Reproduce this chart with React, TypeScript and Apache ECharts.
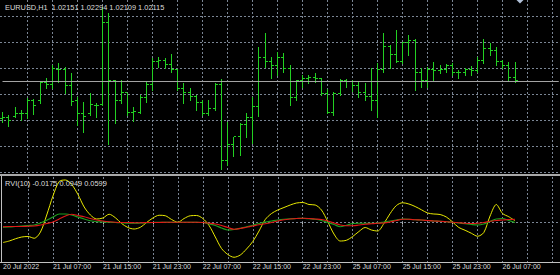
import React, { useEffect, useRef } from "react";
import * as echarts from "echarts";

const TITLE = "EURUSD,H1  1.02151 1.02294 1.02109 1.02115";
const RVI_LABEL = "RVI(10) -0.0175 0.0949 0.0599";
const TICK_LABELS = [
  "20 Jul 2022", "21 Jul 07:00", "21 Jul 15:00", "21 Jul 23:00", "22 Jul 07:00",
  "22 Jul 15:00", "22 Jul 23:00", "25 Jul 07:00", "25 Jul 15:00", "25 Jul 23:00", "26 Jul 07:00",
];
const SLOT_COUNT = 90;
const CATEGORIES = Array.from({ length: SLOT_COUNT }, (_, i) => String(i));
const BID = 1.02115;

const OPEN = [
  1.01764, 1.01782, 1.01791, 1.0181, 1.01819, 1.0193, 1.0193, 1.02097, 1.02087, 1.02226,
  1.02217, 1.02069, 1.01939, 1.01819, 1.0181, 1.01893, 1.019, 1.02652, 1.02115, 1.0193,
  1.02004, 1.01828, 1.01828, 1.01958, 1.02087, 1.02291, 1.02309, 1.02272, 1.02217, 1.0205,
  1.02004, 1.01976, 1.01912, 1.0181, 1.01865, 1.02087, 1.01384, 1.01523, 1.01597, 1.01717,
  1.01773, 1.01875, 1.02337, 1.023, 1.02263, 1.02328, 1.02235, 1.01958, 1.02115, 1.02134,
  1.02143, 1.02134, 1.01995, 1.01828, 1.01995, 1.02115, 1.02106, 1.02069, 1.02004, 1.01967,
  1.01939, 1.02226, 1.0243, 1.02356, 1.023, 1.02467, 1.02494, 1.02198, 1.02115, 1.02217,
  1.02208, 1.02226, 1.02254, 1.02198, 1.02189, 1.02217, 1.02212, 1.02309, 1.02411, 1.02393,
  1.02291, 1.02263, 1.02151,
];
const HIGH = [
  1.01831, 1.01801, 1.01877, 1.01847, 1.01955, 1.01946, 1.02109, 1.0214, 1.02263, 1.02279,
  1.02247, 1.02186, 1.01964, 1.01924, 1.02001, 1.01909, 1.02802, 1.02741, 1.02124, 1.02124,
  1.02007, 1.01877, 1.01986, 1.02109, 1.02328, 1.02337, 1.02328, 1.02365, 1.02226, 1.02094,
  1.02047, 1.01986, 1.01939, 1.01939, 1.02094, 1.02131, 1.01739, 1.016, 1.01724, 1.01816,
  1.0197, 1.02432, 1.02556, 1.0234, 1.02386, 1.02371, 1.02263, 1.02124, 1.02171, 1.02171,
  1.02186, 1.0214, 1.02038, 1.02016, 1.02131, 1.02129, 1.02124, 1.02109, 1.02094, 1.02233,
  1.02279, 1.02556, 1.02448, 1.02587, 1.02479, 1.02541, 1.02501, 1.02233, 1.02247, 1.02294,
  1.02263, 1.0227, 1.02279, 1.02217, 1.02238, 1.02254, 1.0234, 1.02501, 1.02464, 1.02432,
  1.02309, 1.02294, 1.02294,
];
const LOW = [
  1.01739, 1.01699, 1.01779, 1.01754, 1.0177, 1.0181, 1.01914, 1.02047, 1.02047, 1.02109,
  1.02001, 1.01893, 1.01708, 1.01646, 1.01801, 1.01785, 1.01895, 1.01532, 1.01724, 1.01909,
  1.01801, 1.01745, 1.01816, 1.01924, 1.02032, 1.02245, 1.02233, 1.02201, 1.02032, 1.01909,
  1.01939, 1.01847, 1.01801, 1.01801, 1.01847, 1.01298, 1.01338, 1.01421, 1.01431, 1.016,
  1.01539, 1.01791, 1.02247, 1.0214, 1.02171, 1.02201, 1.01893, 1.01939, 1.02057, 1.02094,
  1.02109, 1.01986, 1.01816, 1.01801, 1.01986, 1.02062, 1.02025, 1.0197, 1.01939, 1.01847,
  1.01785, 1.02201, 1.02233, 1.02294, 1.02279, 1.02356, 1.02032, 1.02057, 1.02057, 1.02124,
  1.02186, 1.02201, 1.02171, 1.0214, 1.02171, 1.02171, 1.02201, 1.02279, 1.02356, 1.02263,
  1.02233, 1.02124, 1.02109,
];
const CLOSE = [
  1.01782, 1.01754, 1.0181, 1.01819, 1.0193, 1.01884, 1.02097, 1.02087, 1.02235, 1.02217,
  1.02069, 1.01921, 1.01819, 1.01791, 1.01902, 1.01884, 1.02652, 1.02115, 1.0193, 1.02013,
  1.01828, 1.01834, 1.01958, 1.02087, 1.02291, 1.02309, 1.02272, 1.02217, 1.0205, 1.02004,
  1.01976, 1.01912, 1.0181, 1.01865, 1.02087, 1.01384, 1.01523, 1.01597, 1.01717, 1.01773,
  1.01875, 1.02337, 1.023, 1.02263, 1.02328, 1.02235, 1.01958, 1.02115, 1.02134, 1.02143,
  1.02134, 1.01995, 1.01828, 1.01995, 1.02115, 1.02106, 1.02069, 1.02004, 1.01967, 1.01939,
  1.02226, 1.0243, 1.02356, 1.023, 1.02467, 1.02494, 1.02198, 1.02115, 1.02217, 1.02208,
  1.02226, 1.02254, 1.02198, 1.02189, 1.02217, 1.02212, 1.02309, 1.02411, 1.02393, 1.02291,
  1.02263, 1.02151, 1.02115,
];

const YELLOW = [
  -0.08, -0.074, -0.065, -0.058, -0.056, -0.063, -0.038, 0.03, 0.106, 0.164,
  0.17, 0.152, 0.112, 0.062, 0.03, 0.014, 0.018, 0.033, 0.019, -0.004,
  -0.02, -0.026, -0.019, 0.0, 0.018, 0.029, 0.027, 0.012, 0.001, 0.016,
  0.027, 0.028, 0.016, -0.012, -0.058, -0.104, -0.128, -0.139, -0.13, -0.106,
  -0.076, -0.034, 0.012, 0.036, 0.05, 0.06, 0.07, 0.078, 0.08, 0.072,
  0.07, 0.05, 0.004, -0.046, -0.074, -0.071, -0.056, -0.036, -0.02, -0.03,
  -0.034, -0.004, 0.036, 0.068, 0.079, 0.074, 0.064, 0.051, 0.038, 0.034,
  0.032, 0.022, 0.002, -0.02, -0.031, -0.043, -0.055, -0.04, 0.026, 0.072,
  0.036, 0.023, 0.007,
];
const GREEN = [
  -0.019, -0.018, -0.016, -0.014, -0.012, -0.01, -0.002, 0.009, 0.022, 0.034,
  0.034, 0.03, 0.022, 0.014, 0.007, 0.003, 0.002, 0.001, 0.0, -0.001,
  -0.003, -0.003, -0.002, -0.001, 0.0, 0.001, 0.001, 0.001, 0.001, 0.001,
  0.001, 0.001, 0.0, -0.006, -0.012, -0.022, -0.03, -0.028, -0.023, -0.017,
  -0.011, -0.004, 0.002, 0.006, 0.01, 0.013, 0.015, 0.016, 0.017, 0.015,
  0.013, 0.008, 0.0, -0.008, -0.017, -0.011, -0.004, -0.003, -0.003, -0.003,
  -0.002, 0.002, 0.006, 0.01, 0.014, 0.013, 0.011, 0.01, 0.008, 0.006,
  0.005, 0.003, 0.001, -0.002, -0.005, -0.008, -0.01, -0.006, 0.004, 0.014,
  0.016, 0.008, 0.0,
];
const RED = [
  -0.017, -0.016, -0.016, -0.016, -0.015, -0.014, -0.01, -0.004, 0.002, 0.014,
  0.026, 0.033, 0.028, 0.023, 0.016, 0.01, 0.006, 0.003, 0.001, 0.0,
  0.0, -0.001, -0.001, 0.0, 0.0, 0.0, 0.001, 0.001, 0.001, 0.001,
  0.001, 0.001, 0.0, -0.003, -0.006, -0.012, -0.02, -0.027, -0.024, -0.019,
  -0.014, -0.009, -0.005, 0.0, 0.006, 0.011, 0.014, 0.016, 0.017, 0.016,
  0.014, 0.012, 0.006, -0.002, -0.01, -0.013, -0.013, -0.01, -0.007, -0.005,
  -0.003, -0.002, 0.002, 0.008, 0.013, 0.013, 0.011, 0.01, 0.008, 0.006,
  0.005, 0.003, 0.001, -0.001, -0.003, -0.004, -0.003, 0.0, 0.005, 0.008,
  0.01, 0.012, 0.013,
];

const PRICE_MIN = 1.0127325;
const PRICE_MAX = 1.0286425;
const RVI_MIN = -0.16;
const RVI_MAX = 0.182;

const BAR_COLOR = "#22d022";
const GRID_COLOR = "#7a8594";
const TEXT_COLOR = "#dcdcdc";
const FONT = "Liberation Sans";

export default function App() {
  const ref = useRef<HTMLDivElement>(null);

  useEffect(() => {
    if (!ref.current) return;
    const chart = echarts.init(ref.current, undefined, { renderer: "svg" });
    const gridLine = { color: GRID_COLOR, width: 1, type: [2, 2] as any };
    const vInterval = (i: number) => i > 0 && i % 4 === 0;

    const renderItem = (_params: any, api: any) => {
      const i = api.value(0);
      const o = api.coord([i, api.value(1)]);
      const h = api.coord([i, api.value(2)]);
      const l = api.coord([i, api.value(3)]);
      const c = api.coord([i, api.value(4)]);
      const x = Math.round(o[0] - 0.5) + 0.5;
      const style = { stroke: BAR_COLOR, lineWidth: 1 };
      const oy = Math.round(o[1] - 0.5) + 0.5;
      const cy = Math.round(c[1] - 0.5) + 0.5;
      return {
        type: "group",
        children: [
          { type: "line", shape: { x1: x, y1: Math.round(h[1]), x2: x, y2: Math.round(l[1]) + 1 }, style },
          { type: "line", shape: { x1: x - 2.5, y1: oy, x2: x - 0.5, y2: oy }, style },
          { type: "line", shape: { x1: x + 0.5, y1: cy, x2: x + 2.5, y2: cy }, style },
        ],
      };
    };

    const option: any = {
      animation: false,
      backgroundColor: "#000000",
      grid: [
        { left: 2.5, right: 1.25, top: 0, height: 172 },
        { left: 2.5, right: 1.25, top: 177, height: 85.5 },
        { left: 0, right: 0, top: 16, height: 156 },
        { left: 0, right: 0, top: 222.5, height: 40 },
      ],
      xAxis: [
        {
          type: "category", gridIndex: 0, data: CATEGORIES, boundaryGap: false,
          axisLine: { show: false }, axisTick: { show: false }, axisLabel: { show: false },
          splitLine: { show: true, interval: vInterval, lineStyle: gridLine },
        },
        {
          type: "category", gridIndex: 1, data: CATEGORIES, boundaryGap: false,
          axisLine: { show: false },
          axisTick: {
            show: true, length: 2, interval: (i: number) => i % 8 === 0 && i > 0 && i / 8 < TICK_LABELS.length,
            lineStyle: { color: "#c0c0c0" },
          },
          axisLabel: {
            show: true, interval: (i: number) => i % 8 === 0,
            formatter: (_v: string, i: number) => TICK_LABELS[i / 8] ?? "",
            align: "left", color: TEXT_COLOR, fontSize: 7, fontFamily: FONT, margin: 0, lineHeight: 8,
          },
          splitLine: { show: true, interval: vInterval, lineStyle: gridLine },
        },
        { type: "value", gridIndex: 2, show: false, min: 0, max: 1 },
        { type: "value", gridIndex: 3, show: false, min: 0, max: 1 },
      ],
      yAxis: [
        { type: "value", gridIndex: 0, min: PRICE_MIN, max: PRICE_MAX, show: false },
        { type: "value", gridIndex: 1, min: RVI_MIN, max: RVI_MAX, show: false },
        {
          type: "value", gridIndex: 2, min: 0, max: 6, interval: 1,
          axisLine: { show: false }, axisTick: { show: false }, axisLabel: { show: false },
          splitLine: { show: true, lineStyle: gridLine },
        },
        {
          type: "value", gridIndex: 3, min: 0, max: 1, interval: 1,
          axisLine: { show: false }, axisTick: { show: false }, axisLabel: { show: false },
          splitLine: { show: true, lineStyle: gridLine },
        },
      ],
      series: [
        {
          type: "line", xAxisIndex: 0, yAxisIndex: 0, data: CLOSE, symbol: "none",
          lineStyle: { opacity: 0 }, silent: true, z: 1,
          markLine: {
            silent: true, symbol: ["none", "none"], label: { show: false }, precision: 6,
            lineStyle: { color: "#a4a4a4", type: "solid", width: 1 },
            data: [{ yAxis: BID }],
          },
        },
        {
          type: "custom", xAxisIndex: 0, yAxisIndex: 0, z: 3,
          data: OPEN.map((o, i) => [i, o, HIGH[i], LOW[i], CLOSE[i]]),
          encode: { x: 0, y: [1, 2, 3, 4] },
          renderItem,
        },
        {
          type: "line", xAxisIndex: 1, yAxisIndex: 1, data: YELLOW, symbol: "none", smooth: 0.3,
          lineStyle: { color: "#e8e800", width: 1 },
        },
        {
          type: "line", xAxisIndex: 1, yAxisIndex: 1, data: GREEN, symbol: "none", smooth: 0.3,
          lineStyle: { color: "#1e9e1e", width: 1.2 },
        },
        {
          type: "line", xAxisIndex: 1, yAxisIndex: 1, data: RED, symbol: "none", smooth: 0.3,
          lineStyle: { color: "#e01818", width: 1.2 },
        },
      ],
      graphic: [
        { type: "rect", shape: { x: 0, y: 174, width: 560, height: 2 }, style: { fill: "#a8a8a8" }, z: 50, silent: true },
        { type: "line", shape: { x1: 1.5, y1: 176, x2: 1.5, y2: 263 }, style: { stroke: "#c0c0c0", lineWidth: 1 }, z: 50, silent: true },
        { type: "line", shape: { x1: 0, y1: 262.5, x2: 560, y2: 262.5 }, style: { stroke: "#c0c0c0", lineWidth: 1 }, z: 50, silent: true },
        { type: "polygon", shape: { points: [[516.5, 0], [523.5, 0], [520, 3.5]] }, style: { fill: "#b0c0d8" }, z: 50, silent: true },
        {
          type: "text", x: 5, y: 7, z: 60, silent: true,
          style: { text: TITLE, fill: TEXT_COLOR, fontSize: 7.4, fontFamily: FONT, verticalAlign: "middle", align: "left" },
        },
        {
          type: "text", x: 5, y: 183.5, z: 60, silent: true,
          style: { text: RVI_LABEL, fill: TEXT_COLOR, fontSize: 7.4, fontFamily: FONT, verticalAlign: "middle", align: "left" },
        },
      ],
    };
    chart.setOption(option);
    return () => chart.dispose();
  }, []);

  return (
    <div
      ref={ref}
      style={{ position: "fixed", left: 0, top: 0, width: 560, height: 275, background: "#000" }}
    />
  );
}
